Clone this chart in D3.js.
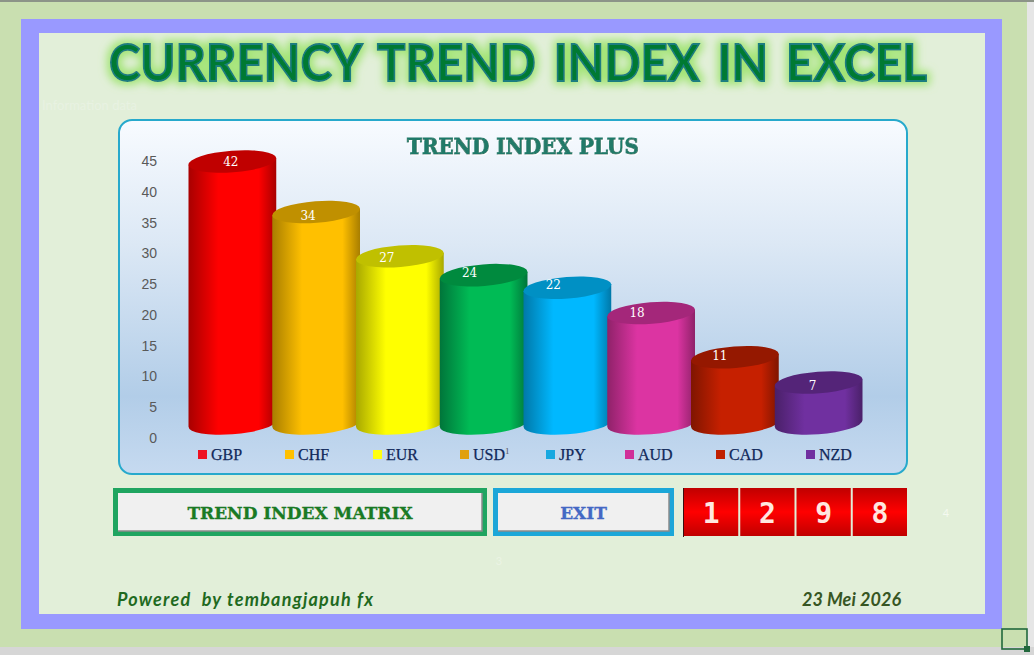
<!DOCTYPE html>
<html><head><meta charset="utf-8">
<script src="https://cdn.jsdelivr.net/npm/d3@7"></script>
<style>html,body{margin:0;padding:0;background:#e6e6e6;overflow:hidden}svg{display:block}</style>
</head><body><svg id="c" width="1034" height="655"></svg>
<script>
const currencies = ["GBP","CHF","EUR","USD","JPY","AUD","CAD","NZD"];
const trendValues = [42,34,27,24,22,18,11,7];
const axisTicks = [0,5,10,15,20,25,30,35,40,45];
const bodyColors = ["#ff0000","#ffc000","#ffff00","#00bb55","#00b8ff","#dc34a2","#c62000","#7030a0"];
const edgeColors = ["#a80000","#a87e00","#a8a800","#00753a","#0078a8","#8f2269","#7f1500","#4a2069"];
const capColors = ["#c00000","#c09000","#c0c000","#008a3e","#0090c4","#a4277a","#951800","#542478"];
const legendColors = ["#ee1122","#ffc000","#ffff10","#e0a010","#18a8e0","#d03098","#c02000","#7030a0"];
const matrixDigits = ["1","2","9","8"];
// layout only: hand-placed offsets of the source chart's labels
const legendLabelX = [210,297,385,472,558,637,728,818];
const labelNudgeX = [-1.5,-8,-13,-14,-14,-14,-15,-6];
const labelNudgeY = [0,3,1,-3,-3,-1,-2,3];

const svg = d3.select("#c");
const defs = svg.append("defs");
const rect = (x,y,w,h,fill,extra={})=>{const r=svg.append("rect").attr("x",x).attr("y",y).attr("width",w).attr("height",h).attr("fill",fill);
  Object.entries(extra).forEach(([k,v])=>r.attr(k,v));return r;};
const text = (x,y,s,o={})=>{const t=svg.append("text").attr("x",x).attr("y",y).text(s);
  Object.entries(o).forEach(([k,v])=>t.attr(k,v));return t;};

// sheet backgrounds
rect(0,0,1034,655,"#e6e6e6");
rect(0,2,1027,645,"#c9dfb0");
rect(0,0,1034,2,"#8c9488");
rect(0,647,1034,8,"#d6d6d6");
rect(21,19,981,610,"#9999ff");
rect(39,33,946,581,"#e2efd9");

// title
const glow = defs.append("filter").attr("id","glow").attr("x","-10%").attr("y","-50%").attr("width","120%").attr("height","200%");
glow.append("feMorphology").attr("in","SourceAlpha").attr("operator","dilate").attr("radius",3).attr("result","d");
glow.append("feGaussianBlur").attr("in","d").attr("stdDeviation",4).attr("result","b");
glow.append("feFlood").attr("flood-color","#9be36a").attr("flood-opacity",.9);
glow.append("feComposite").attr("in2","b").attr("operator","in").attr("result","g");
const gm = glow.append("feMerge"); gm.append("feMergeNode").attr("in","g"); gm.append("feMergeNode").attr("in","SourceGraphic");
text(518,81,"CURRENCY TREND INDEX IN EXCEL",{"text-anchor":"middle","font-family":"Lato","font-weight":700,"font-size":52,"word-spacing":7,
  fill:"#007a30",stroke:"#1a7d80","stroke-width":1.8,filter:"url(#glow)",textLength:818,lengthAdjust:"spacingAndGlyphs"});

// faint background cell text
text(42,110,"Information data",{"font-family":"Lato","font-size":13,fill:"#e8f2e2"});
text(946,517,"4",{"text-anchor":"middle","font-family":"Lato","font-size":11,fill:"#f4f9f0"});
text(499,565,"3",{"text-anchor":"middle","font-family":"Lato","font-size":11,fill:"#ebf4e4"});

// panel
const pg = defs.append("linearGradient").attr("id","panel").attr("x1",0).attr("y1",0).attr("x2",0).attr("y2",1);
[[0,"#f8fbff"],[.35,"#dce8f5"],[.78,"#b2cde8"],[1,"#c6daf0"]].forEach(([o,c])=>pg.append("stop").attr("offset",o).attr("stop-color",c));
rect(119,120,788,354,"url(#panel)",{rx:13,stroke:"#27a9cc","stroke-width":2});

const titleShadow = defs.append("filter").attr("id","ts").attr("x","-5%").attr("y","-20%").attr("width","110%").attr("height","140%");
titleShadow.append("feDropShadow").attr("dx",1).attr("dy",1).attr("stdDeviation",.6).attr("flood-color","#ffffff");
text(523,154,"TREND INDEX PLUS",{"text-anchor":"middle","font-family":"DejaVu Serif","font-weight":700,"font-size":22,fill:"#207a68",
  stroke:"#207a68","stroke-width":.9,textLength:232,lengthAdjust:"spacingAndGlyphs",filter:"url(#ts)"});

// scales
const tickY = d3.scaleLinear().domain([0,45]).range([438,161]);   // printed axis labels
const topY  = d3.scaleLinear().domain([0,42]).range([426.7,161.5]); // cylinder top centres (3D projection)
const x = d3.scaleBand().domain(currencies).range([190.5,860.5]).paddingInner(0);

// axis
const axis = d3.axisLeft(tickY).tickValues(axisTicks).tickSize(0).tickPadding(0);
const ag = svg.append("g").attr("transform","translate(157,0)").call(axis);
ag.select(".domain").remove();
ag.selectAll("text").attr("font-family","Liberation Sans").attr("font-size",14).attr("fill","#595959");

// cylinders
const rx=44, ry=10.8, deg=-4.5, th=deg*Math.PI/180, floorLift=3.2;
const tExt=Math.atan(-(ry/rx)*Math.tan(th));
const exX=rx*Math.cos(tExt)*Math.cos(th)-ry*Math.sin(tExt)*Math.sin(th);
const exY=rx*Math.cos(tExt)*Math.sin(th)+ry*Math.sin(tExt)*Math.cos(th);
currencies.forEach((c,i)=>{
  const g=defs.append("linearGradient").attr("id","b"+i).attr("x1",0).attr("x2",1).attr("y1",0).attr("y2",0);
  [[0,edgeColors[i]],[.34,bodyColors[i]],[.8,bodyColors[i]],[1,edgeColors[i]]].forEach(([o,col])=>g.append("stop").attr("offset",o).attr("stop-color",col));
});
const cyl = svg.append("g").selectAll("g").data(currencies).join("g");
cyl.append("path").attr("fill",(d,i)=>`url(#b${i})`).attr("d",(d,i)=>{
  const cx=x(d)+x.bandwidth()/2, t=topY(trendValues[i]), b=topY(0)-floorLift;
  return `M${cx-exX},${t-exY} L${cx-exX},${b-exY} A${rx},${ry} ${deg} 0 0 ${cx+exX},${b+exY} L${cx+exX},${t+exY} Z`;
});
cyl.append("ellipse").attr("rx",rx).attr("ry",ry).attr("fill",(d,i)=>capColors[i])
  .attr("transform",(d,i)=>`translate(${x(d)+x.bandwidth()/2},${topY(trendValues[i])}) rotate(${deg})`);
// data labels sit above every cylinder in the source
svg.append("g").selectAll("text").data(currencies).join("text").text((d,i)=>trendValues[i]).attr("text-anchor","middle")
  .attr("x",(d,i)=>x(d)+x.bandwidth()/2+labelNudgeX[i]).attr("y",(d,i)=>topY(trendValues[i])+4.5+labelNudgeY[i])
  .attr("font-family","DejaVu Serif").attr("font-size",12).attr("fill","#ffffff");

// legend
const leg = svg.append("g").selectAll("g").data(currencies).join("g");
leg.append("rect").attr("x",(d,i)=>legendLabelX[i]-12).attr("y",450).attr("width",9).attr("height",9).attr("fill",(d,i)=>legendColors[i]);
leg.append("text").text(d=>d).attr("x",(d,i)=>legendLabelX[i]+1).attr("y",459.5)
  .attr("font-family","Liberation Serif").attr("font-size",16).attr("fill","#10285a").attr("stroke","#10285a").attr("stroke-width",.25);
text(505,454,"1",{"font-family":"Liberation Serif","font-size":9,fill:"#555"});

// buttons
const btn=(x0,w,border,label,col,size)=>{
  rect(x0+2.5,490.5,w-5,43,"#f0f0f0",{stroke:border,"stroke-width":5});
  svg.append("path").attr("fill","none").attr("stroke","#8a8a8a").attr("stroke-width",1.5)
    .attr("d",`M${x0+5},${531} H${x0+w-5} V${493}`);
  text(x0+w/2,519,label,{"text-anchor":"middle","font-family":"DejaVu Serif","font-weight":700,"font-size":size,fill:col,stroke:col,"stroke-width":.3});
};
btn(113,374,"#1fa560","TREND INDEX MATRIX","#1a7a24",17);
btn(493,181,"#1ba7d8","EXIT","#4468c4",17);

// red tiles
const rg=defs.append("linearGradient").attr("id","red").attr("x1",0).attr("x2",0).attr("y1",0).attr("y2",1);
[[0,"#c00000"],[.5,"#ff0000"],[1,"#c00000"]].forEach(([o,c])=>rg.append("stop").attr("offset",o).attr("stop-color",c));
const tile=d3.scaleBand().domain(matrixDigits.map((d,i)=>i)).range([683,908]).paddingInner(0);
matrixDigits.forEach((d,i)=>{
  rect(tile(i)+(i?1:0),488,tile.bandwidth()-(i?2:1),48,"url(#red)");
  text(tile(i)+tile.bandwidth()/2,523,d,{"text-anchor":"middle","font-family":"DejaVu Sans Mono","font-weight":700,"font-size":28,fill:"#ffe8e0"});
});
rect(683,488,1,49,"#3a1010");

// footer
text(117,606,"Powered  by tembangjapuh fx",{"font-family":"Lato","font-style":"italic","font-weight":700,"font-size":18,fill:"#1f6a1f",textLength:256}).style("white-space","pre");
text(802,606,"23 Mei 2026",{"font-family":"Lato","font-style":"italic","font-weight":700,"font-size":18,fill:"#375623",textLength:99});

// selection handle
rect(1002,629,25,20,"none",{stroke:"#21683c","stroke-width":1.6});
rect(1024,646,6,6,"#21683c");
</script></body></html>
